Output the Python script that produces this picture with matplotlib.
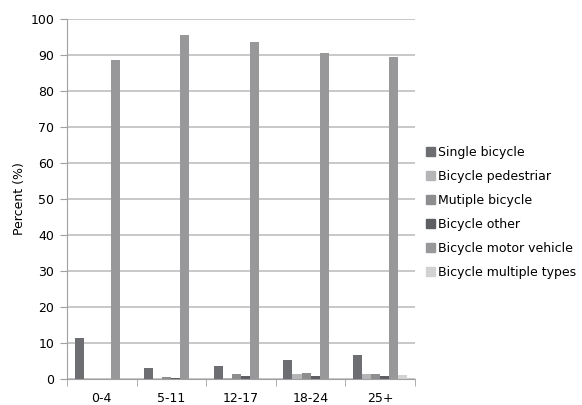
import numpy as np
import matplotlib
matplotlib.use('Agg')
import matplotlib.pyplot as plt
from matplotlib.patches import Patch

# age groups and percent of cases per crash type
age_groups = ['0-4', '5-11', '12-17', '18-24', '25+']
single_bicycle = [11.5, 3.1, 3.7, 5.4, 6.6]
bicycle_pedestrian = [0.0, 0.1, 0.3, 1.3, 1.3]
multiple_bicycle = [0.0, 0.5, 1.5, 1.8, 1.5]
bicycle_other = [0.0, 0.4, 0.8, 0.8, 0.8]
bicycle_motor = [88.5, 95.6, 93.5, 90.6, 89.4]
bicycle_multi_types = [0.0, 0.0, 0.1, 0.0, 1.1]

series = [
    ('Single bicycle', single_bicycle, '#6d6e71'),
    ('Bicycle pedestriar', bicycle_pedestrian, '#b5b5b7'),
    ('Mutiple bicycle', multiple_bicycle, '#8e8e91'),
    ('Bicycle other', bicycle_other, '#5e5f62'),
    ('Bicycle motor vehicle', bicycle_motor, '#98989b'),
    ('Bicycle multiple types', bicycle_multi_types, '#d2d2d3'),
]

plt.rcParams['font.family'] = ['DejaVu Sans']
fig = plt.figure(figsize=(5.82, 4.05), dpi=100)
ax = fig.add_axes([0.115, 0.064, 0.598, 0.889])

x = np.arange(len(age_groups))
w = 0.13
for i, (name, vals, col) in enumerate(series):
    ax.bar(x + (i - 2.5) * w, vals, w, color=col, zorder=3)

ax.set_xlim(-0.5, len(age_groups) - 0.5)
ax.set_ylim(0, 100)
ax.set_yticks(range(0, 101, 10))
ax.yaxis.grid(True, color='#c8c8c8', linewidth=1.4, zorder=0)
ax.set_xticks(x)
ax.set_xticklabels(age_groups)
ax.set_xticks(np.arange(-0.5, len(age_groups)), minor=True)
ax.tick_params(axis='x', which='major', length=0, labelsize=9, pad=9)
ax.tick_params(axis='x', which='minor', length=5, color='#a0a0a0')
ax.tick_params(axis='y', length=5, color='#a0a0a0', labelsize=9, pad=4)
for s in ['top', 'right']:
    ax.spines[s].set_visible(False)
ax.spines['left'].set_color('#a0a0a0')
ax.spines['bottom'].set_color('#a0a0a0')
ax.set_ylabel('Percent (%)', fontsize=9)
ax.yaxis.set_label_coords(-0.118, 0.5)

handles = [Patch(color=c, label=n) for n, v, c in series]
fig.legend(handles=handles, loc='upper left', bbox_to_anchor=(0.712, 0.668),
           frameon=False, fontsize=9, handlelength=0.75, handleheight=0.75,
           handletextpad=0.25, labelspacing=0.88)

fig.savefig('out.png', dpi=100)
